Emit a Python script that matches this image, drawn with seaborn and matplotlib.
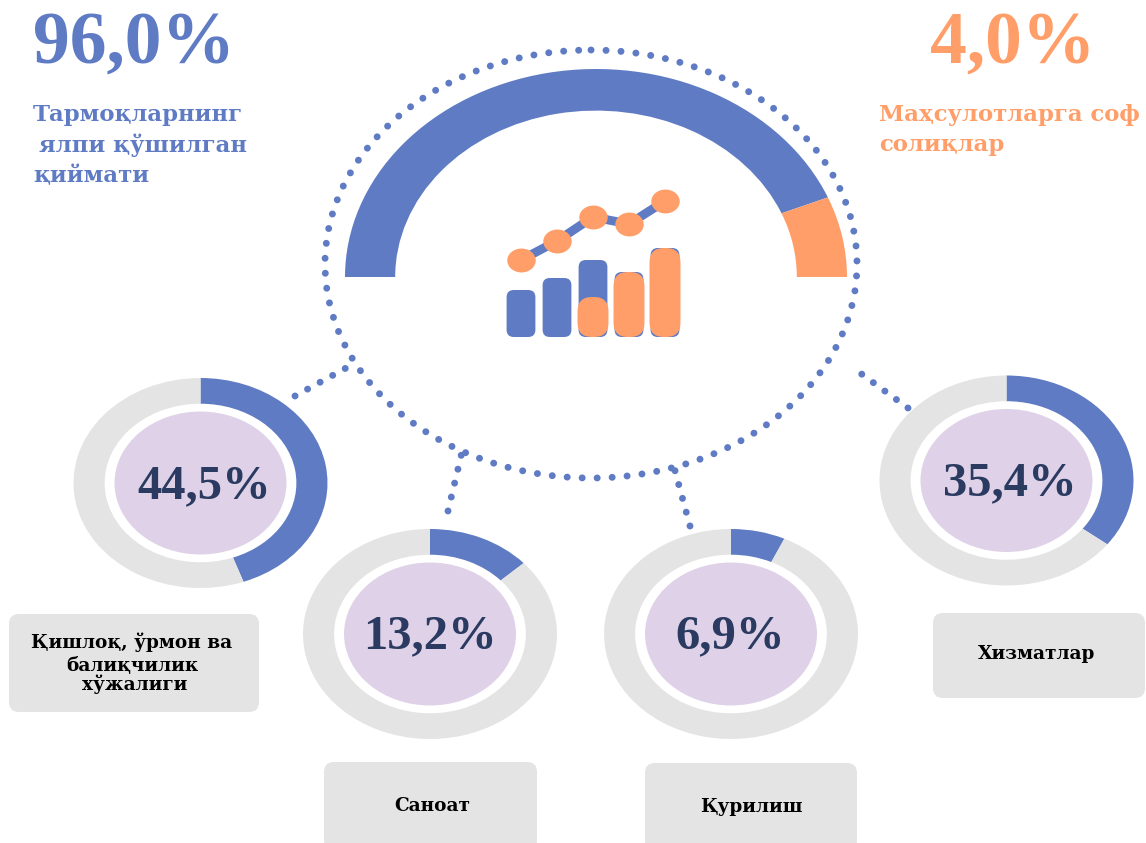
# GDP structure infographic: gauge, icon and four sector donuts

import pandas as pd
import matplotlib
matplotlib.use("Agg")
import matplotlib.pyplot as plt
import seaborn as sns
from matplotlib.patches import Ellipse, FancyBboxPatch, Rectangle
from matplotlib.path import Path
from matplotlib.transforms import Affine2D

# Data
sectors = ["Қишлоқ, ўрмон ва\nбалиқчилик\nхўжалиги", "Саноат", "Қурилиш", "Хизматлар"]
sector_shares = [44.5, 13.2, 6.9, 35.4]
total_shares = [96.0, 4.0]
gauge_parts = [0.4375, 0.0625]   # as drawn in the half ring, the other half stays empty
icon_x = [0, 1, 2, 3, 4]
icon_bars_blue = [47, 59, 77, 65, 89]
icon_bars_orange = [0, 0, 40, 65, 89]
icon_line = [77, 96, 120, 113, 136]

W, H = 1146, 843
BLUE = "#5F7BC3"
ORANGE = "#FF9E69"
GREY = "#E4E4E4"
PURPLE = "#DFD2E8"
NAVY = "#2A3A60"
SERIF = ["Liberation Serif", "DejaVu Serif"]
WIDE = ["DejaVu Serif", "Liberation Serif"]

sns.set_theme(style="white")
plt.rcParams["font.family"] = SERIF

fig = plt.figure(figsize=(W / 100, H / 100), dpi=100, facecolor="white")


def px_axes(left, top, right, bottom):
    a = fig.add_axes([left / W, 1 - bottom / H, (right - left) / W, (bottom - top) / H])
    a.patch.set_alpha(0)
    return a


def fmt(v):
    return f"{v:.1f}%".replace(".", ",")


def round_bars(a, size, aspect):
    # swap the plain seaborn rectangles for rounded ones
    for bar in [p for p in a.patches if isinstance(p, Rectangle)]:
        x, y, w, h = bar.get_x(), bar.get_y(), bar.get_width(), bar.get_height()
        color = bar.get_facecolor()
        bar.remove()
        if h > 0:
            a.add_patch(FancyBboxPatch((x, y), w, h, boxstyle=f"round,pad=0,rounding_size={size}",
                                       mutation_aspect=aspect, facecolor=color, linewidth=0))


# background layer in pixel coordinates
bg = fig.add_axes([0, 0, 1, 1])
bg.set_xlim(0, W)
bg.set_ylim(H, 0)
bg.axis("off")

# dotted ellipse and connectors
ring = Ellipse((591, 264), 532, 428, fill=False, edgecolor=BLUE, linewidth=5.0,
               linestyle=(0, (0.01, 2.15)))
ring.set_capstyle("round")
bg.add_patch(ring)
connectors = [((295, 396), (357, 362)), ((448, 511), (462, 452)),
              ((690, 526), (674, 467)), ((908, 408), (852, 367))]
for a_pt, b_pt in connectors:
    bg.plot([a_pt[0], b_pt[0]], [a_pt[1], b_pt[1]], color=BLUE, linewidth=5.0,
            linestyle=(0, (0.01, 2.05)), dash_capstyle="round")

# half ring gauge
gauge = px_axes(345, 69, 847, 485)
gauge.pie(gauge_parts, colors=[BLUE, ORANGE], startangle=180, counterclock=False, normalize=False,
          radius=1, wedgeprops={"width": 0.2, "linewidth": 0})
gauge.set_aspect("auto")
gauge.set_xlim(-1, 1)
gauge.set_ylim(-1, 1)

# chart icon in the middle
icon = px_axes(503, 187, 683, 337)
blue_df = pd.DataFrame({"x": icon_x, "y": icon_bars_blue})
orange_df = pd.DataFrame({"x": icon_x, "y": icon_bars_orange})
sns.barplot(data=blue_df, x="x", y="y", color=BLUE, saturation=1, width=0.8, ax=icon)
round_bars(icon, 0.2, 36)
sns.barplot(data=orange_df, x="x", y="y", color=ORANGE, saturation=1, width=0.86, ax=icon)
round_bars(icon, 0.4, 36)
oval = Path.unit_circle().transformed(Affine2D().scale(1, 0.84))
sns.lineplot(x=icon_x, y=icon_line, color=BLUE, linewidth=6.4, marker=oval, markersize=20.5,
             markerfacecolor=ORANGE, markeredgewidth=0, ax=icon)
icon.set_xlim(-0.5, 4.5)
icon.set_ylim(0, 150)
icon.axis("off")
for line in icon.lines:
    line.set_clip_on(False)

# sector donuts
donut_centers = [(200.5, 483), (430, 634), (731, 634), (1006.5, 480.5)]
for share, (cx, cy) in zip(sector_shares, donut_centers):
    d = px_axes(cx - 127, cy - 105, cx + 127, cy + 105)
    d.pie([share, 100 - share], colors=[BLUE, GREY], startangle=90, counterclock=False,
          radius=1, wedgeprops={"width": 0.245, "linewidth": 0})
    d.set_aspect("auto")
    d.set_xlim(-1, 1)
    d.set_ylim(-1, 1)
    bg.add_patch(Ellipse((cx, cy), 172, 143, facecolor=PURPLE, linewidth=0))

# top layer for text and label boxes
top = fig.add_axes([0, 0, 1, 1])
top.set_xlim(0, W)
top.set_ylim(H, 0)
top.axis("off")
top.patch.set_alpha(0)

value_spots = [(204, 498), (430, 648), (730, 648), (1010, 495)]
for share, (tx, ty) in zip(sector_shares, value_spots):
    top.text(tx, ty, fmt(share), fontsize=35, fontweight="bold", color=NAVY, ha="center", va="baseline")

boxes = [(9, 614, 259, 712), (324, 762, 537, 850), (645, 763, 857, 850), (933, 613, 1145, 698)]
for x0, y0, x1, y1 in boxes:
    top.add_patch(FancyBboxPatch((x0, y0), x1 - x0, y1 - y0, boxstyle="round,pad=0,rounding_size=10",
                                 facecolor=GREY, linewidth=0))

label_lines = sectors[0].split("\n")
for txt, x, y in zip(label_lines, [132, 132, 135], [648, 670, 690]):
    top.text(x, y, txt, fontsize=13.3, fontweight="bold", family=WIDE, color="black", ha="center", va="baseline")
for txt, x, y in zip(sectors[1:], [432, 751, 1037], [811, 812, 659]):
    top.text(x, y, txt, fontsize=13.3, fontweight="bold", family=WIDE, color="black", ha="center", va="baseline")

# big totals and captions
top.text(33, 63, fmt(total_shares[0]), fontsize=53, fontweight="bold", color=BLUE, ha="left", va="baseline")
top.text(930, 63, fmt(total_shares[1]), fontsize=53, fontweight="bold", color=ORANGE, ha="left", va="baseline")
for txt, x, y in [("Тармоқларнинг", 33, 121), ("ялпи қўшилган", 39, 152), ("қиймати", 33, 182)]:
    top.text(x, y, txt, fontsize=16.4, fontweight="bold", family=WIDE, color=BLUE, ha="left", va="baseline")
for txt, x, y in [("Маҳсулотларга соф", 879, 121), ("солиқлар", 879, 151)]:
    top.text(x, y, txt, fontsize=16.4, fontweight="bold", family=WIDE, color=ORANGE, ha="left", va="baseline")

fig.savefig("out.png", dpi=100, facecolor="white")
